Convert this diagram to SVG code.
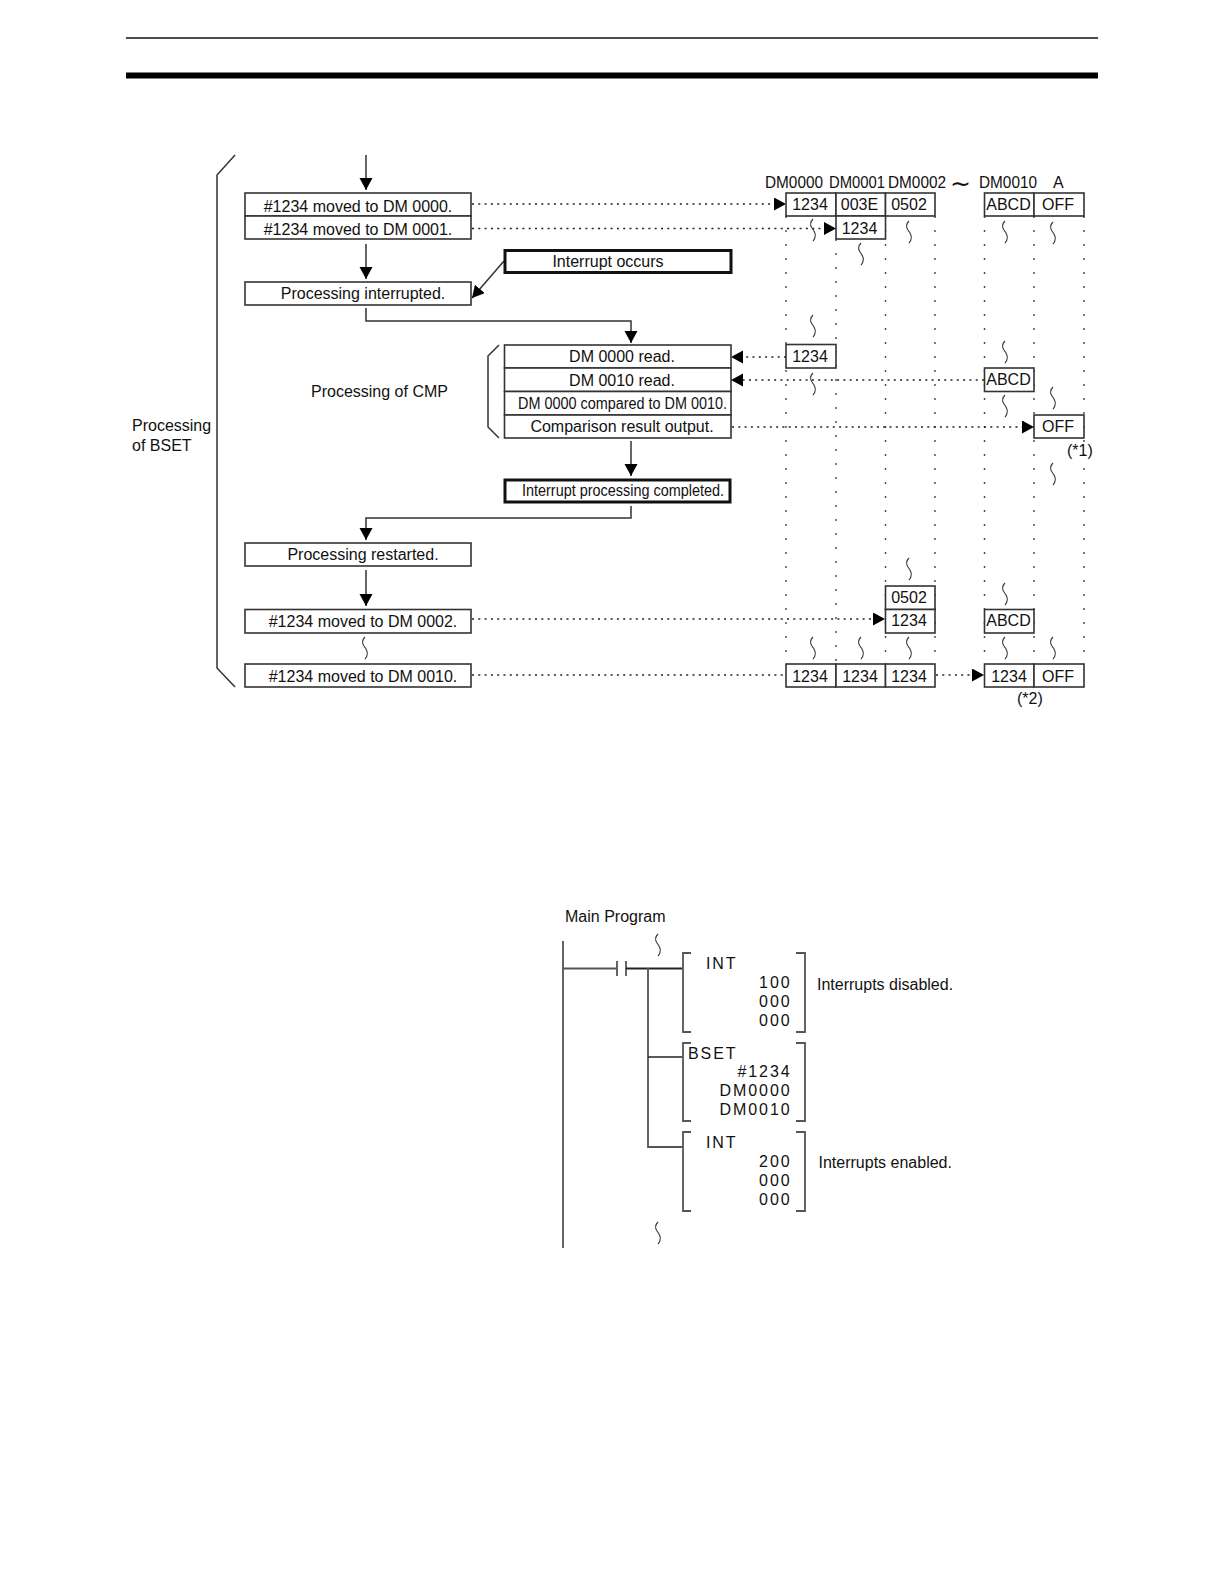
<svg xmlns="http://www.w3.org/2000/svg" width="1224" height="1584" viewBox="0 0 1224 1584">
<style>
text{font-family:"Liberation Sans",Arial,sans-serif;font-size:16px;fill:#111}
.m{text-anchor:middle}.e{text-anchor:end}.s{letter-spacing:1.9px}
.b{fill:#fff;stroke:#333;stroke-width:1.6}
.t{fill:#fff;stroke:#111;stroke-width:3}
.l{fill:none;stroke:#333;stroke-width:1.5}
.g{fill:none;stroke:#555;stroke-width:1.8}
.d{fill:none;stroke:#222;stroke-width:1.4;stroke-dasharray:2 4.3}
.v{fill:none;stroke:#444;stroke-width:1.4;stroke-dasharray:2 12}
.q{fill:none;stroke:#333;stroke-width:1.1}
</style>
<defs>
<marker id="a" markerUnits="userSpaceOnUse" markerWidth="14" markerHeight="14" refX="12" refY="6.500" orient="auto"><path d="M0 0L12 6.500L0 13Z" fill="#000"/></marker>
<path id="w" d="M0 0C-3 3-3 6-1 9C2 13 3 16 2 18C2 20 1 21 0 22"/>
</defs>
<g id="page-rules"><path d="M126 38H1098" stroke="#111" stroke-width="1.6"/><path d="M126 75.500H1098" stroke="#000" stroke-width="6"/></g>
<g id="column-guides">
<path class="v" d="M786 216V664M836 239V664M885.500 216V664M935 216V664M984.500 216V664M1034 216V664M1084 216V664"/>
</g>
<g id="braces">
<path class="l" d="M235 155L217 175V668L235 687"/><path class="l" d="M499 345L488 356V427L499 438"/>
</g>
<g id="connectors">
<path class="l" marker-end="url(#a)" d="M366 155V190"/>
<path class="l" marker-end="url(#a)" d="M366 244V279"/>
<path class="l" marker-end="url(#a)" d="M504 261L472 298"/>
<path class="l" marker-end="url(#a)" d="M366 308V321H631V343"/>
<path class="l" marker-end="url(#a)" d="M631 441V476"/>
<path class="l" marker-end="url(#a)" d="M631 506V518H366V540"/>
<path class="l" marker-end="url(#a)" d="M366 570V606"/>
<path class="d" marker-end="url(#a)" d="M472 204H786"/>
<path class="d" marker-end="url(#a)" d="M472 228.500H836"/>
<path class="d" marker-end="url(#a)" d="M786 357H731"/>
<path class="d" marker-end="url(#a)" d="M984 380H731"/>
<path class="d" marker-end="url(#a)" d="M732 427H1034"/>
<path class="d" marker-end="url(#a)" d="M472 619H885"/>
<path class="d" d="M472 675H786"/>
<path class="d" marker-end="url(#a)" d="M936 675H984"/>
</g>
<g id="n-moved-0000"><rect class="b" x="245" y="193" width="226" height="23"/><text class="m" x="358" y="212">#1234 moved to DM 0000.</text></g>
<g id="n-moved-0001"><rect class="b" x="245" y="216" width="226" height="23"/><text class="m" x="358" y="235">#1234 moved to DM 0001.</text></g>
<g id="n-interrupt"><rect class="t" x="505" y="250.500" width="226" height="22"/><text class="m" x="608" y="266.500">Interrupt occurs</text></g>
<g id="n-interrupted"><rect class="b" x="245" y="282" width="226" height="23"/><text class="m" x="363" y="299">Processing interrupted.</text></g>
<g id="n-cmp-label"><text x="311" y="397">Processing of CMP</text></g>
<g id="n-bset-label"><text x="132" y="431">Processing</text><text x="132" y="451">of BSET</text></g>
<g id="n-cmp-1"><rect class="b" x="504.500" y="345" width="226.500" height="23"/><text class="m" x="622" y="362">DM 0000 read.</text></g>
<g id="n-cmp-2"><rect class="b" x="504.500" y="368" width="226.500" height="23.500"/><text class="m" x="622" y="385.500">DM 0010 read.</text></g>
<g id="n-cmp-3"><rect class="b" x="504.500" y="391.500" width="226.500" height="23.500" stroke-width="1"/><text x="518" y="409" textLength="209" lengthAdjust="spacingAndGlyphs">DM 0000 compared to DM 0010.</text></g>
<g id="n-cmp-4"><rect class="b" x="504.500" y="415" width="226.500" height="23"/><text class="m" x="622" y="432">Comparison result output.</text></g>
<g id="n-completed"><rect class="t" x="505" y="480" width="225" height="22"/><text x="522" y="496" textLength="202" lengthAdjust="spacingAndGlyphs">Interrupt processing completed.</text></g>
<g id="n-restarted"><rect class="b" x="245" y="543" width="226" height="23"/><text class="m" x="363" y="560">Processing restarted.</text></g>
<g id="n-moved-0002"><rect class="b" x="245" y="609.500" width="226" height="23.500"/><text class="m" x="363" y="627">#1234 moved to DM 0002.</text></g>
<g id="n-moved-0010"><rect class="b" x="245" y="664" width="226" height="23"/><text class="m" x="363" y="682">#1234 moved to DM 0010.</text></g>
<g id="n-headers"><text x="765" y="188" textLength="58" lengthAdjust="spacingAndGlyphs">DM0000</text><text x="829" y="188" textLength="56" lengthAdjust="spacingAndGlyphs">DM0001</text><text x="888" y="188" textLength="58" lengthAdjust="spacingAndGlyphs">DM0002</text><text x="950" y="192" font-size="24" style="font-size:25px">∼</text><text x="979" y="188" textLength="58" lengthAdjust="spacingAndGlyphs">DM0010</text><text x="1053" y="188">A</text></g>
<g id="n-row-top">
<rect class="b" x="786" y="193" width="50" height="23"/><text class="m" x="810" y="210">1234</text>
<rect class="b" x="836" y="193" width="49.500" height="23"/><text class="m" x="859.500" y="210">003E</text>
<rect class="b" x="885.500" y="193" width="49.500" height="23"/><text class="m" x="909" y="210">0502</text>
<rect class="b" x="984.500" y="193" width="49.500" height="23"/><text class="m" x="1008.500" y="210">ABCD</text>
<rect class="b" x="1034" y="193" width="50" height="23"/><text class="m" x="1058" y="210">OFF</text>
</g>
<g id="n-0001-1234"><rect class="b" x="836" y="216" width="49.500" height="23"/><text class="m" x="859.500" y="234">1234</text></g>
<g id="n-read-1234"><rect class="b" x="786" y="344.500" width="50" height="23.500"/><text class="m" x="810" y="362">1234</text></g>
<g id="n-read-abcd"><rect class="b" x="984.500" y="368" width="49.500" height="23.500"/><text class="m" x="1008.500" y="385">ABCD</text></g>
<g id="n-off"><rect class="b" x="1034" y="415" width="50" height="23"/><text class="m" x="1058" y="432">OFF</text></g>
<g id="n-note1"><text x="1067" y="456">(*1)</text></g>
<g id="n-0502"><rect class="b" x="885.500" y="586" width="49.500" height="23.500"/><text class="m" x="909" y="603">0502</text></g>
<g id="n-0002-1234"><rect class="b" x="885.500" y="609.500" width="49.500" height="23.500"/><text class="m" x="909" y="626">1234</text></g>
<g id="n-abcd-2"><rect class="b" x="984.500" y="609.500" width="49.500" height="23.500"/><text class="m" x="1008.500" y="626">ABCD</text></g>
<g id="n-row-bottom">
<rect class="b" x="786" y="664" width="50" height="23"/><text class="m" x="810" y="682">1234</text>
<rect class="b" x="836" y="664" width="49.500" height="23"/><text class="m" x="860" y="682">1234</text>
<rect class="b" x="885.500" y="664" width="49.500" height="23"/><text class="m" x="909" y="682">1234</text>
<rect class="b" x="984.500" y="664" width="49.500" height="23"/><text class="m" x="1009" y="682">1234</text>
<rect class="b" x="1034" y="664" width="50" height="23"/><text class="m" x="1058" y="682">OFF</text>
</g>
<g id="n-note2"><text x="1017" y="704">(*2)</text></g>
<g id="squiggles" class="q">
<use href="#w" x="813" y="219"/><use href="#w" x="909" y="221"/><use href="#w" x="1005" y="221"/><use href="#w" x="1053" y="222"/><use href="#w" x="861" y="243"/>
<use href="#w" x="813" y="315"/><use href="#w" x="1005" y="341"/><use href="#w" x="813" y="373"/><use href="#w" x="1005" y="395"/><use href="#w" x="1053" y="387"/>
<use href="#w" x="1053" y="463"/><use href="#w" x="909" y="558"/><use href="#w" x="1005" y="583"/>
<use href="#w" x="813" y="637"/><use href="#w" x="861" y="637"/><use href="#w" x="909" y="637"/><use href="#w" x="1005" y="637"/><use href="#w" x="1053" y="637"/><use href="#w" x="365" y="637"/>
<use href="#w" x="658" y="934"/><use href="#w" x="658" y="1222"/>
</g>
<g id="ladder-lines">
<path class="g" d="M563 941V1248"/>
<path class="g" d="M563 968.500H617M617 961V976M626 961V976"/>
<path d="M626 968.500H683" stroke="#222" stroke-width="2" fill="none"/>
<path class="g" d="M648 968V1147H683"/>
<path d="M648 1057H683" stroke="#222" stroke-width="1.300" fill="none"/>
</g>
<g id="n-main-label"><text x="565" y="922">Main Program</text></g>
<g id="n-int-100">
<path class="g" d="M691 953H683V1032H691M796 953H805V1032H796"/>
<text class="s" x="706" y="969">INT</text>
<text class="e s" x="791.500" y="988">100</text><text class="e s" x="791.500" y="1007">000</text><text class="e s" x="791.500" y="1026">000</text>
</g>
<g id="n-bset">
<path class="g" d="M691 1043H683V1121H691M796 1043H805V1121H796"/>
<text class="s" x="688" y="1058.500">BSET</text>
<text class="e s" x="791.500" y="1077">#1234</text><text class="e s" x="791.500" y="1096">DM0000</text><text class="e s" x="791.500" y="1115">DM0010</text>
</g>
<g id="n-int-200">
<path class="g" d="M691 1132H683V1211H691M796 1132H805V1211H796"/>
<text class="s" x="706" y="1148">INT</text>
<text class="e s" x="791.500" y="1167">200</text><text class="e s" x="791.500" y="1186">000</text><text class="e s" x="791.500" y="1205">000</text>
</g>
<g id="n-notes"><text x="817" y="990">Interrupts disabled.</text><text x="818.500" y="1168">Interrupts enabled.</text></g>
</svg>
